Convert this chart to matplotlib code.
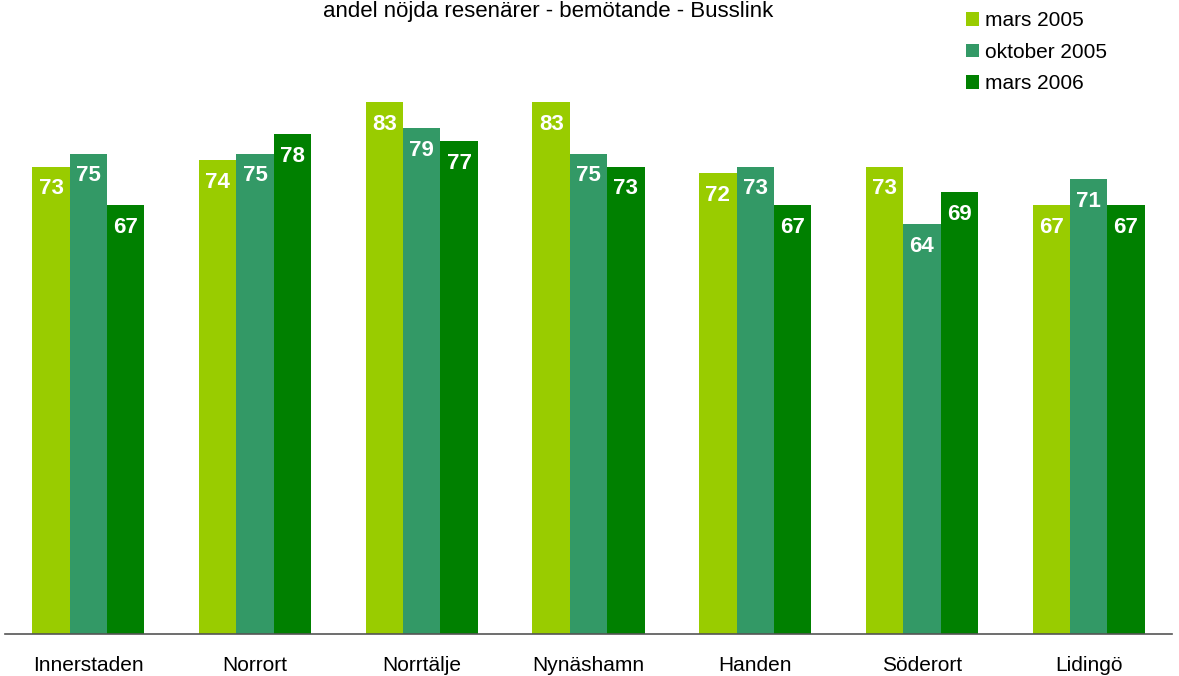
import numpy as np
import matplotlib

matplotlib.use("agg")
import matplotlib.pyplot as plt
from matplotlib.patches import Patch

plt.rcParams["font.family"] = ["Liberation Sans", "DejaVu Sans"]

# satisfaction per area and survey round
areas = ["Innerstaden", "Norrort", "Norrtälje", "Nynäshamn", "Handen", "Söderort", "Lidingö"]
mars_2005 = [73, 74, 83, 83, 72, 73, 67]
oktober_2005 = [75, 75, 79, 75, 73, 64, 71]
mars_2006 = [67, 78, 77, 73, 67, 69, 67]
series_names = ["mars 2005", "oktober 2005", "mars 2006"]
series_cols = ["#99CC00", "#339966", "#008000"]

fig = plt.figure(figsize=(11.79, 6.76), dpi=100)
ax = fig.add_axes([5 / 1179, 42 / 676, 1167 / 1179, 634 / 676])

x_pos = np.arange(len(areas))
bar_w = 0.224
for idx, (vals, col) in enumerate(zip([mars_2005, oktober_2005, mars_2006], series_cols)):
    offs = (idx - 1) * bar_w
    bars = ax.bar(x_pos + offs, vals, width=bar_w, color=col, edgecolor="none")
    for rect, val in zip(bars, vals):
        ax.annotate(
            str(val),
            (rect.get_x() + rect.get_width() / 2, rect.get_height()),
            xytext=(0, -16),
            textcoords="offset points",
            ha="center",
            va="center",
            color="white",
            fontsize=16,
            fontweight="bold",
        )

ax.set_xlim(-0.5, len(areas) - 0.5)
ax.set_ylim(0, 99)
ax.set_xticks(x_pos)
ax.set_xticklabels(areas, fontsize=15)
ax.tick_params(axis="x", length=0, pad=16)
ax.set_yticks([])
for side in ["top", "right", "left"]:
    ax.spines[side].set_visible(False)
ax.spines["bottom"].set_color("#555555")
ax.spines["bottom"].set_linewidth(1.2)

fig.text(548 / 1179, 1 - 12 / 676, "andel nöjda resenärer - bemötande - Busslink",
         ha="center", va="center", fontsize=16)

handles = [Patch(facecolor=c, edgecolor="none") for c in series_cols]
fig.legend(
    handles,
    series_names,
    loc="upper left",
    bbox_to_anchor=(958 / 1179, 1 - 3 / 676),
    frameon=False,
    fontsize=15,
    handlelength=0.6,
    handleheight=0.6,
    handletextpad=0.3,
    labelspacing=0.6,
    borderaxespad=0,
)

plt.savefig("out.png", dpi=100)
plt.close(fig)
